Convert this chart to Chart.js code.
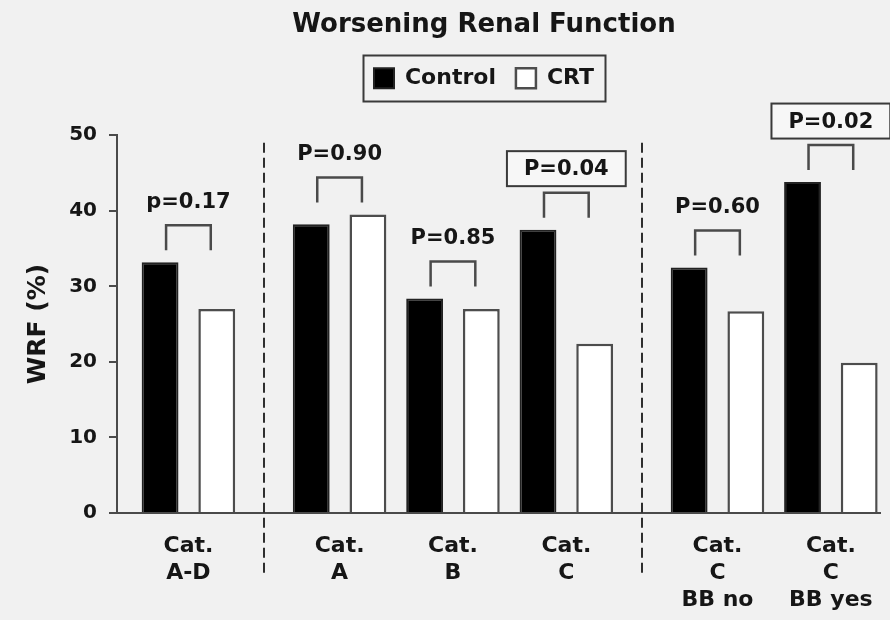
<!DOCTYPE html>
<html>
<head>
<meta charset="utf-8">
<title>Worsening Renal Function</title>
<script src="https://cdn.jsdelivr.net/npm/chart.js@4/dist/chart.umd.min.js"></script>
<style>
  html, body { margin: 0; padding: 0; background: #f1f1f1; }
  #wrap { width: 890px; height: 620px; }
  canvas { display: block; }
</style>
</head>
<body>
<div id="wrap"><canvas id="chart" width="890" height="620"></canvas></div>
<script>
// ---- data ----
const categories = [
  ['Cat.', 'A-D'],
  ['Cat.', 'A'],
  ['Cat.', 'B'],
  ['Cat.', 'C'],
  ['Cat.', 'C', 'BB no'],
  ['Cat.', 'C', 'BB yes']
];
const sections  = [0, 1, 1, 1, 2, 2];          // groups separated by dashed lines
const controlWRF = [33.2, 38.2, 28.4, 37.5, 32.5, 43.8];
const crtWRF     = [27.0, 39.5, 27.0, 22.4, 26.7, 19.9];
const pValues    = [0.17, 0.90, 0.85, 0.04, 0.60, 0.02];
const pLabels    = ['p=0.17', 'P=0.90', 'P=0.85', 'P=0.04', 'P=0.60', 'P=0.02'];
const yTicks     = [0, 10, 20, 30, 40, 50];

// ---- derived slot positions on the x axis ----
const slot = categories.map((_, i) => i * 3 + sections[i]);
const separators = [];
for (let i = 1; i < slot.length; i++) {
  if (sections[i] !== sections[i - 1]) separators.push((slot[i - 1] + slot[i]) / 2);
}

const FONT = "'DejaVu Sans', 'Liberation Sans', sans-serif";
const INK = '#161616';
const LINE = '#4a4a4a';
const HEAD_CENTER = 484;

// extra space between the legend row and the plot
const headGap = {
  id: 'headGap',
  beforeInit(chart, args, opts) {
    const box = {
      position: 'top', weight: 100, fullSize: true, options: {},
      top: 0, left: 0, right: 0, bottom: 0, width: 0, height: 0,
      isHorizontal() { return true; },
      update(maxWidth) { this.width = maxWidth; this.height = opts.size || 0; },
      draw() {}
    };
    Chart.layouts.addBox(chart, box);
  },
  afterLayout(chart) {
    [chart.titleBlock, chart.legend].forEach(b => {
      if (!b) return;
      const dx = HEAD_CENTER - (b.left + b.right) / 2;
      b.left += dx; b.right += dx;
    });
  }
};

// dashed separators, significance brackets and p-value labels
const annotations = {
  id: 'annotations',
  afterDatasetsDraw(chart) {
    const {ctx, chartArea} = chart;
    const xs = chart.scales.x, ys = chart.scales.y;
    ctx.save();

    // separators
    ctx.strokeStyle = '#2e2e2e';
    ctx.lineWidth = 2;
    ctx.setLineDash([10, 5]);
    separators.forEach(v => {
      const x = Math.round(xs.getPixelForValue(v));
      ctx.beginPath();
      ctx.moveTo(x, ys.getPixelForValue(49));
      ctx.lineTo(x, chartArea.bottom + 64);
      ctx.stroke();
    });
    ctx.setLineDash([]);

    const m0 = chart.getDatasetMeta(0), m1 = chart.getDatasetMeta(1);
    ctx.font = 'bold 21px ' + FONT;
    ctx.textAlign = 'center';
    ctx.textBaseline = 'middle';
    pLabels.forEach((label, i) => {
      const b0 = m0.data[i], b1 = m1.data[i];
      const xl = b0.x + 6, xr = b1.x - 6;
      const xc = (b0.x + b1.x) / 2;
      const yTop = Math.min(b0.y, b1.y);
      const yb = yTop - 12, yt = yb - 25;
      ctx.strokeStyle = LINE;
      ctx.lineWidth = 2.5;
      ctx.beginPath();
      ctx.moveTo(xl, yb); ctx.lineTo(xl, yt); ctx.lineTo(xr, yt); ctx.lineTo(xr, yb);
      ctx.stroke();

      const ty = yt - 24;
      if (pValues[i] < 0.05) {
        const w = ctx.measureText(label).width + 34, h = 35;
        ctx.fillStyle = '#f7f7f7';
        ctx.fillRect(xc - w / 2, ty - h / 2, w, h);
        ctx.strokeStyle = '#3a3a3a';
        ctx.lineWidth = 2;
        ctx.strokeRect(xc - w / 2, ty - h / 2, w, h);
      }
      ctx.fillStyle = INK;
      ctx.fillText(label, xc, ty + 1);
    });
    ctx.restore();
  },
  afterDraw(chart) {
    // frame around the legend row
    const lg = chart.legend;
    if (!lg || !lg.legendHitBoxes || !lg.legendHitBoxes.length) return;
    const hb = lg.legendHitBoxes;
    const l = Math.min(...hb.map(h => h.left)) - 11;
    const r = Math.max(...hb.map(h => h.left + h.width)) + 11;
    const t = Math.min(...hb.map(h => h.top)) - 12;
    const btm = Math.max(...hb.map(h => h.top + h.height)) + 12;
    const ctx = chart.ctx;
    ctx.save();
    ctx.strokeStyle = '#3a3a3a';
    ctx.lineWidth = 2;
    ctx.strokeRect(Math.round(l) + 0.5, Math.round(t) + 0.5, Math.round(r - l), Math.round(btm - t));
    ctx.restore();
  }
};

new Chart(document.getElementById('chart'), {
  type: 'bar',
  data: {
    datasets: [
      {
        label: 'Control',
        data: controlWRF.map((v, i) => ({x: slot[i], y: v})),
        backgroundColor: '#000000',
        borderColor: '#222222',
        borderWidth: 2
      },
      {
        label: 'CRT',
        data: crtWRF.map((v, i) => ({x: slot[i], y: v})),
        backgroundColor: '#ffffff',
        borderColor: '#4d4d4d',
        borderWidth: 2.5
      }
    ]
  },
  options: {
    responsive: false,
    animation: false,
    events: [],
    datasets: { bar: { categoryPercentage: 1.0, barPercentage: 0.65 } },
    layout: { padding: { top: 0, right: 10, bottom: 0, left: 0 } },
    plugins: {
      title: {
        display: true,
        text: 'Worsening Renal Function',
        color: INK,
        font: { family: FONT, size: 26, weight: 'bold' },
        padding: { top: 10, bottom: 6 }
      },
      legend: {
        display: true,
        labels: {
          color: INK,
          font: { family: FONT, size: 22, weight: 'bold' },
          boxWidth: 20,
          boxHeight: 20,
          padding: 20
        }
      },
      tooltip: { enabled: false },
      headGap: { size: 36 }
    },
    scales: {
      x: {
        type: 'linear',
        min: -1.89,
        max: 18.3,
        offset: false,
        afterBuildTicks(s) { s.ticks = slot.map(v => ({value: v})); },
        afterFit(s) { s.height = 107; s.paddingLeft = 0; s.paddingRight = 0; },
        ticks: {
          autoSkip: false,
          maxRotation: 0,
          minRotation: 0,
          padding: 20,
          color: INK,
          font: { family: FONT, size: 22, weight: 'bold', lineHeight: 1.23 },
          callback: (v, i) => categories[i]
        },
        grid: { display: false, drawTicks: false },
        border: { display: true, color: LINE, width: 2 }
      },
      y: {
        min: 0,
        max: 50,
        afterBuildTicks(s) { s.ticks = yTicks.map(v => ({value: v})); },
        afterFit(s) { s.width = 117; },
        ticks: {
          padding: 12,
          color: INK,
          font: { family: FONT, size: 20, weight: 'bold' }
        },
        grid: { drawOnChartArea: false, drawTicks: true, tickLength: 8, color: LINE, lineWidth: 2 },
        border: { display: true, color: LINE, width: 2 },
        title: {
          display: true,
          text: 'WRF (%)',
          color: INK,
          font: { family: FONT, size: 25, weight: 'bold' },
          padding: { top: 23, bottom: 0 }
        }
      }
    }
  },
  plugins: [headGap, annotations]
});
</script>
</body>
</html>
